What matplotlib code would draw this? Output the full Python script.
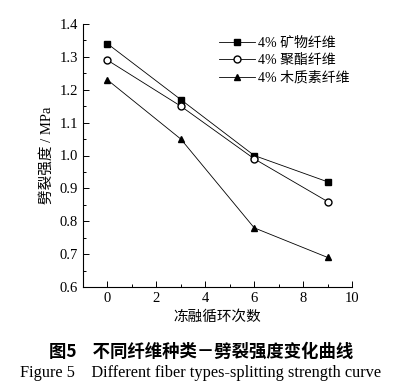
import matplotlib.pyplot as plt
from matplotlib.ticker import MultipleLocator

plt.rcParams['font.family'] = ['Liberation Serif', 'Noto Sans CJK SC']
plt.rcParams['mathtext.fontset'] = 'stix'

# 数据
cycles = [0, 3, 6, 9]
mineral = [1.34, 1.17, 1.00, 0.92]
polyester = [1.29, 1.15, 0.99, 0.86]
lignin = [1.23, 1.05, 0.78, 0.69]
labels = ['4% 矿物纤维', '4% 聚酯纤维', '4% 木质素纤维']

fig = plt.figure(figsize=(4.02, 3.88), dpi=100)
ax = fig.add_axes([83 / 402, 1 - 287 / 388, (352 - 83) / 402, (287 - 24) / 388])

kw = dict(color='black', linewidth=0.6, markersize=5)
ax.plot(cycles, mineral, marker='s', label=labels[0], **kw)
ax.plot(cycles, polyester, marker='o', markerfacecolor='white', label=labels[1], **kw)
ax.plot(cycles, lignin, marker='^', label=labels[2], **kw)

ax.set_xlim(-1, 10)
ax.set_ylim(0.6, 1.4)
ax.xaxis.set_major_locator(MultipleLocator(2))
ax.xaxis.set_minor_locator(MultipleLocator(1))
ax.yaxis.set_major_locator(MultipleLocator(0.1))
ax.yaxis.set_minor_locator(MultipleLocator(0.05))
ax.yaxis.set_major_formatter(plt.FuncFormatter(lambda v, p: f'{v:.1f}'))
ax.tick_params(which='both', direction='in', labelsize=10.5, width=0.7)
ax.tick_params(which='major', length=4)
ax.tick_params(which='minor', length=2)
ax.spines['top'].set_visible(False)
ax.spines['right'].set_visible(False)
for s in ['left', 'bottom']:
    ax.spines[s].set_linewidth(0.8)

ax.set_xlabel('冻融循环次数', fontsize=10.5, labelpad=4)
ax.set_ylabel('劈裂强度 / MPa', fontsize=10.5, labelpad=4)

ax.legend(loc='upper left', bbox_to_anchor=(0.46, 1.0), frameon=False,
          fontsize=10, handlelength=2.6, handletextpad=0.2, labelspacing=0.3)

fig.text(0.5, 1 - 352 / 388, '图5    不同纤维种类－劈裂强度变化曲线', ha='center', va='center',
         fontsize=12.5, fontweight='bold', family=['Noto Sans CJK SC'])
fig.text(0.5, 1 - 373 / 388, 'Figure 5    Different fiber types-splitting strength curve',
         ha='center', va='center', fontsize=11.8)

fig.savefig('out.png', dpi=100)
